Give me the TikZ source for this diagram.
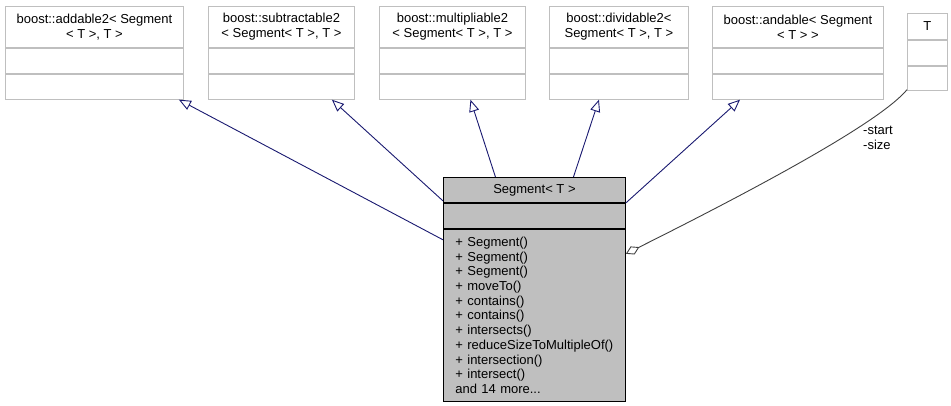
\documentclass[tikz,border=0pt]{standalone}
\usepackage{fontspec}
\setmainfont{Liberation Sans}
\usepackage{tikz}
\usetikzlibrary{arrows.meta, positioning}

\definecolor{edgeblue}{HTML}{191970}
\definecolor{edgegray}{HTML}{404040}

\begin{document}
\begin{tikzpicture}[
  x=1pt, y=-1pt,
  font=\fontsize{13}{14.7}\selectfont,
  cls/.style={draw=gray!50, line width=0.9pt, fill=white, inner sep=0pt,
              anchor=north west, align=center},
  head/.style={cls, minimum height=41pt},
  part/.style={cls, minimum height=25pt},
  focus/.style={cls, draw=black, fill=gray!50, minimum width=182pt},
  inherit/.style={{Triangle[open, length=12pt, width=10pt]}-, line width=0.9pt,
                  draw=edgeblue},
  aggr/.style={-{Diamond[open, length=15pt, width=9pt]}, line width=0.9pt,
               draw=edgegray},
  role/.style={font=\fontsize{13}{14.7}\selectfont, align=left}
]
\useasboundingbox (0,0) rectangle (951,405);

%% ── Classes de base ─────────────────────────────────────────────
\foreach \n/\x/\w/\t in {
  addable/5/178/{boost::addable2< Segment\\< T >, T >},
  subtr/208/146/{boost::subtractable2\\< Segment< T >, T >},
  mult/379/146/{boost::multipliable2\\< Segment< T >, T >},
  divid/549/139/{boost::dividable2<\\Segment< T >, T >},
  andable/712/171/{boost::andable< Segment\\< T > >}}
{
  \node[head, minimum width=\w pt] (\n) at (\x,6) {\t};
  \node[part, minimum width=\w pt] (\n-attr) at (\n.south west) {};
  \node[part, minimum width=\w pt] (\n-ops) at (\n-attr.south west) {};
}

%% ── Parametre T ─────────────────────────────────────────────────
\node[part, minimum width=40pt, minimum height=26pt] (T) at (907,13) {T};
\node[part, minimum width=40pt] (T-attr) at (T.south west) {};
\node[part, minimum width=40pt, minimum height=24pt] (T-ops) at (T-attr.south west) {};

%% ── Segment ─────────────────────────────────────────────────────
\node[focus, minimum height=25pt] (seg) at (443,177) {Segment< T >};
\node[focus, minimum height=25pt] (seg-attr) at (seg.south west) {};
\node[focus, minimum height=172pt, align=left, text width=158pt,
  inner xsep=12pt] (seg-ops) at (seg-attr.south west)
  {+ Segment()\\
   + Segment()\\
   + Segment()\\
   + moveTo()\\
   + contains()\\
   + contains()\\
   + intersects()\\
   + reduceSizeToMultipleOf()\\
   + intersection()\\
   + intersect()\\
   and 14 more...};

%% ── Heritage ────────────────────────────────────────────────────
\draw[inherit] ([xshift=-5pt]addable-ops.south east) -- ([yshift=-11pt]seg-ops.north west);
\draw[inherit] ([xshift=-23pt]subtr-ops.south east) -- ([yshift=2pt]seg-attr.north west);
\draw[inherit] ([xshift=18pt]mult-ops.south) -- ([xshift=-39pt]seg.north);
\draw[inherit] ([xshift=-20pt]divid-ops.south) -- ([xshift=39pt]seg.north);
\draw[inherit] ([xshift=28pt]andable-ops.south west) -- (seg-attr.north east);

%% ── Aggregation ─────────────────────────────────────────────────
\draw[aggr] ([yshift=1pt]T-ops.south west)
  .. controls +(-25,30) and +(150,-75) .. ([yshift=-25pt]seg-ops.north east);
\node[role] (roles) at (878,138) {-start\\-size};

\end{tikzpicture}
\end{document}
